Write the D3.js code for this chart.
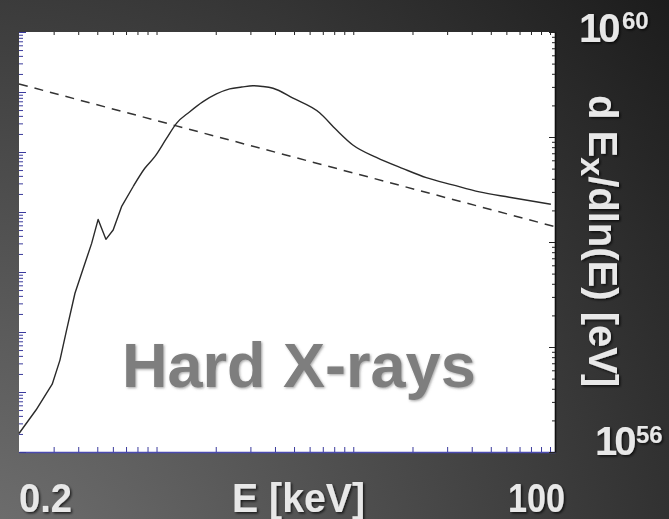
<!DOCTYPE html>
<html lang="en">
<head>
<meta charset="UTF-8">
<title>hard x-rays</title>
<script src="https://cdn.jsdelivr.net/npm/d3@7"></script>
<style>
  html, body { margin: 0; padding: 0; background: #333; }
  svg { display: block; }
  text { font-family: 'Liberation Sans', Arial, sans-serif; font-weight: bold; }
</style>
</head>
<body>
<div id="chart"></div>
<script>
var w = 669, h = 519;

// solid curve: energy [keV] and dE/dlnE [eV]
var solidE = [0.2, 0.244, 0.295, 0.323, 0.349, 0.385, 0.424, 0.468, 0.505, 0.553, 0.602, 0.664, 0.76, 0.872, 0.98,
  1.124, 1.263, 1.476, 1.724, 2.017, 2.355, 2.71, 3.09, 3.46, 3.91, 4.94, 6.74, 8.2, 9.95, 13.1, 17.9, 23.5, 32.0, 43.8, 62.1, 101];
var solidY = [1.5e56, 2.51e56, 4.42e56, 7.5e56, 1.45e57, 3.25e57, 5.6e57, 9.7e57, 1.64e58, 1.06e58, 1.30e58, 2.17e58, 3.36e58, 5.04e58, 6.5e58,
  9.7e58, 1.35e59, 1.74e59, 2.17e59, 2.57e59, 2.87e59, 2.99e59, 3.08e59, 3.03e59, 2.91e59, 2.34e59, 1.70e59, 1.17e59, 8.4e58, 6.4e58, 5.0e58, 4.1e58, 3.5e58, 3.0e58, 2.67e58, 2.29e58];

// dashed power law
var dashE = [0.2, 106];
var dashY = [3.2e59, 1.4e58];

var xTickLabels = ["0.2", "100"];
var xTitle = "E [keV]";
var yTickLabels = [["10", "60"], ["10", "56"]];
var annotation = "Hard X-rays";

var svg = d3.select("#chart").append("svg")
  .attr("width", w).attr("height", h)
  .attr("xmlns", "http://www.w3.org/2000/svg");

var defs = svg.append("defs");
var grad = defs.append("radialGradient").attr("id", "bg")
  .attr("gradientUnits", "userSpaceOnUse")
  .attr("cx", -50).attr("cy", 620).attr("r", 1000);
grad.append("stop").attr("offset", "0").attr("stop-color", "#777777");
grad.append("stop").attr("offset", "0.95").attr("stop-color", "#1c1c1c");

var sh = defs.append("filter").attr("id", "shadow").attr("x", "-10%").attr("y", "-10%").attr("width", "130%").attr("height", "140%");
sh.append("feDropShadow").attr("dx", 1.5).attr("dy", 1.5).attr("stdDeviation", 1)
  .attr("flood-color", "#000").attr("flood-opacity", 0.7);
var sh2 = defs.append("filter").attr("id", "shadow2").attr("x", "-10%").attr("y", "-10%").attr("width", "130%").attr("height", "140%");
sh2.append("feDropShadow").attr("dx", 1.2).attr("dy", 1.2).attr("stdDeviation", 0.8)
  .attr("flood-color", "#555").attr("flood-opacity", 0.5);

svg.append("rect").attr("width", w).attr("height", h).attr("fill", "url(#bg)");

var x = d3.scaleLog().domain([0.2, 106]).range([19, 555]);
var yL = d3.scaleLog().domain([1e53, 1e60]).range([452, 32]);
var y = d3.scaleLog().domain([1e56, 1e60]).range([452, 32]);

// plot area
svg.append("rect")
  .attr("x", x.range()[0]).attr("y", y.range()[1])
  .attr("width", x.range()[1] - x.range()[0])
  .attr("height", y.range()[0] - y.range()[1])
  .attr("fill", "#ffffff");

function isMajor(v) { var l = Math.log10(v); return Math.abs(l - Math.round(l)) < 1e-9; }
var xTicks = x.ticks().filter(function(d) { return d > 0.21; });

// bottom axis (blue)
var gB = svg.append("g").attr("transform", "translate(0," + y.range()[0] + ")")
  .call(d3.axisBottom(x).tickValues(xTicks).tickSizeInner(-5).tickSizeOuter(0).tickFormat(""));
gB.selectAll("line").attr("stroke", "#3a3a9c");
gB.select(".domain").attr("stroke", "#4a4ab0").attr("stroke-width", 1.3);

// top axis (black)
var gT = svg.append("g").attr("transform", "translate(0," + y.range()[1] + ")")
  .call(d3.axisTop(x).tickValues(xTicks).tickSizeInner(-3).tickSizeOuter(0).tickFormat(""));
gT.selectAll("line").attr("stroke", "#222");
gT.select(".domain").remove();

// left axis (blue)
var gL = svg.append("g").attr("transform", "translate(" + x.range()[0] + ",0)")
  .call(d3.axisLeft(yL).tickSizeInner(-4).tickSizeOuter(0).tickFormat(""));
gL.selectAll(".tick line").attr("stroke", "#3a3a9c")
  .attr("x2", function(d) { return isMajor(d) ? 7 : 4; });
gL.select(".domain").remove();

// right axis (black)
var gR = svg.append("g").attr("transform", "translate(" + x.range()[1] + ",0)")
  .call(d3.axisRight(y).tickSizeInner(-3).tickSizeOuter(0).tickFormat(""));
gR.selectAll(".tick line").attr("stroke", "#222")
  .attr("x2", function(d) { return isMajor(d) ? -6 : -3; });
gR.select(".domain").attr("stroke", "#111").attr("stroke-width", 1.6);

// annotation
svg.append("text")
  .attr("x", 122).attr("y", 387)
  .attr("font-size", 63)
  .attr("fill", "#7e7e7e")
  .attr("filter", "url(#shadow2)")
  .text(annotation);

// curves
var line = d3.line()
  .x(function(d) { return x(d[0]); })
  .y(function(d) { return y(d[1]); });

svg.append("path")
  .attr("d", line(dashE.map(function(e, i) { return [e, dashY[i]]; })))
  .attr("fill", "none").attr("stroke", "#333").attr("stroke-width", 1.5)
  .attr("stroke-dasharray", "9,7");

var solid = solidE.map(function(e, i) { return [e, solidY[i]]; });
var split = 12; // sharp kinks below ~0.7 keV, smooth above
svg.append("path")
  .attr("d", line(solid.slice(0, split + 1)))
  .attr("fill", "none").attr("stroke", "#2a2a2a").attr("stroke-width", 1.4)
  .attr("stroke-linejoin", "round");
svg.append("path")
  .attr("d", line.curve(d3.curveMonotoneX)(solid.slice(split)))
  .attr("fill", "none").attr("stroke", "#2a2a2a").attr("stroke-width", 1.4);

// labels on the dark background
var lab = svg.append("g").attr("fill", "#e8e8e8").attr("filter", "url(#shadow)");

lab.append("text").attr("x", x(0.2)).attr("y", 512).attr("font-size", 40)
  .attr("textLength", 53).attr("lengthAdjust", "spacingAndGlyphs").text(xTickLabels[0]);
lab.append("text").attr("x", 232).attr("y", 512).attr("font-size", 40)
  .attr("textLength", 133).attr("lengthAdjust", "spacingAndGlyphs").text(xTitle);
lab.append("text").attr("x", x(100) - 42).attr("y", 512).attr("font-size", 40)
  .attr("textLength", 57).attr("lengthAdjust", "spacingAndGlyphs").text(xTickLabels[1]);

// 10^60 and 10^56, each as one text with a raised exponent
var pw = [
  { lab: yTickLabels[0], x: 579, xs: 622, y: y(1e60) + 10, ys: y(1e60) - 3 },
  { lab: yTickLabels[1], x: 595, xs: 636, y: y(1e56) + 3, ys: y(1e56) - 9 }
];
pw.forEach(function(p) {
  var t = lab.append("text").attr("x", p.x).attr("y", p.y).attr("font-size", 40);
  t.append("tspan").attr("letter-spacing", -3).text(p.lab[0]);
  t.append("tspan").attr("x", p.xs).attr("y", p.ys).attr("font-size", 24).text(p.lab[1]);
});

// rotated y title
var yt = lab.append("text").attr("transform", "translate(589,95) rotate(90)").attr("font-size", 40);
yt.append("tspan").text("d E");
yt.append("tspan").attr("font-size", 34).attr("dy", 8).text("x");
yt.append("tspan").attr("dy", -8).text("/dln(E) [eV]");
</script>
</body>
</html>
